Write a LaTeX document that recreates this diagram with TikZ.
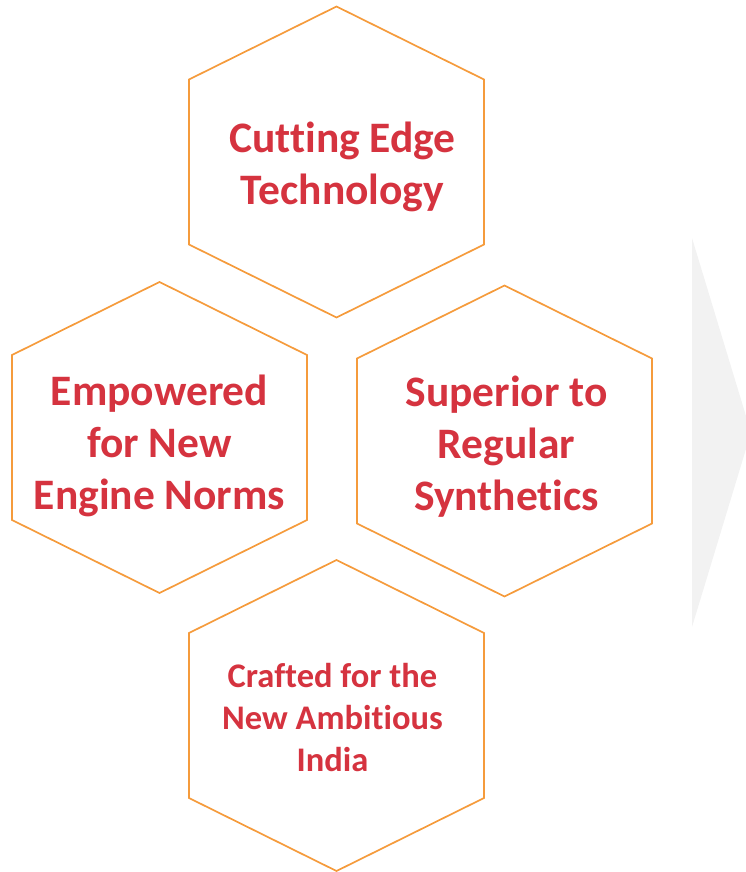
\documentclass[tikz,border=0pt]{standalone}
\usepackage{fontspec}
\setmainfont[Ligatures=NoCommon]{Carlito}
\usetikzlibrary{calc}
\definecolor{hexline}{HTML}{F59B3C}
\definecolor{hextext}{HTML}{D5333F}
\definecolor{arrowgray}{HTML}{F2F2F2}
% hexagon with pointy top, centred on a named coordinate
\newcommand\hexcell[1]{%
  \draw[hexside] ($(#1)+(0,-155.5)$) -- ++(147.5,73) -- ++(0,165)
    -- ++(-147.5,73) -- ++(-147.5,-73) -- ++(0,-165) -- cycle;}
\begin{document}
\begin{tikzpicture}[x=1pt,y=-1pt,
  hexlabel/.style={text=hextext,font=\bfseries\fontsize{43.5}{52}\selectfont,
    align=center,inner sep=0pt},
  smalllabel/.style={hexlabel,font=\bfseries\fontsize{34.5}{42}\selectfont},
  hexside/.style={draw=hexline,line width=1.7pt,line join=miter}]
\useasboundingbox (0,0) rectangle (746,872);
% grey chevron on the right edge
\fill[arrowgray] (692,238) -- (751,432.5) -- (692,627) -- cycle;
% hexagon centres
\coordinate (ctop) at (336.5,162);
\coordinate (cleft) at (159.5,437.5);
\coordinate (cright) at (504.5,441);
\coordinate (cbottom) at (336.5,715.5);
\hexcell{ctop}
\hexcell{cleft}
\hexcell{cright}
\hexcell{cbottom}
\node[hexlabel] (ttop) at ($(ctop)+(6,5)$) {Cutting Edge\\Technology};
\node[hexlabel] (tleft) at ($(cleft)+(0,8)$) {Empowered\\for New\\Engine Norms};
\node[hexlabel] (tright) at ($(cright)+(2,6)$) {Superior to\\Regular\\Synthetics};
\node[smalllabel] (tbottom) at ($(cbottom)+(-4,2)$) {Crafted for the\\New Ambitious\\India};
\end{tikzpicture}
\end{document}
